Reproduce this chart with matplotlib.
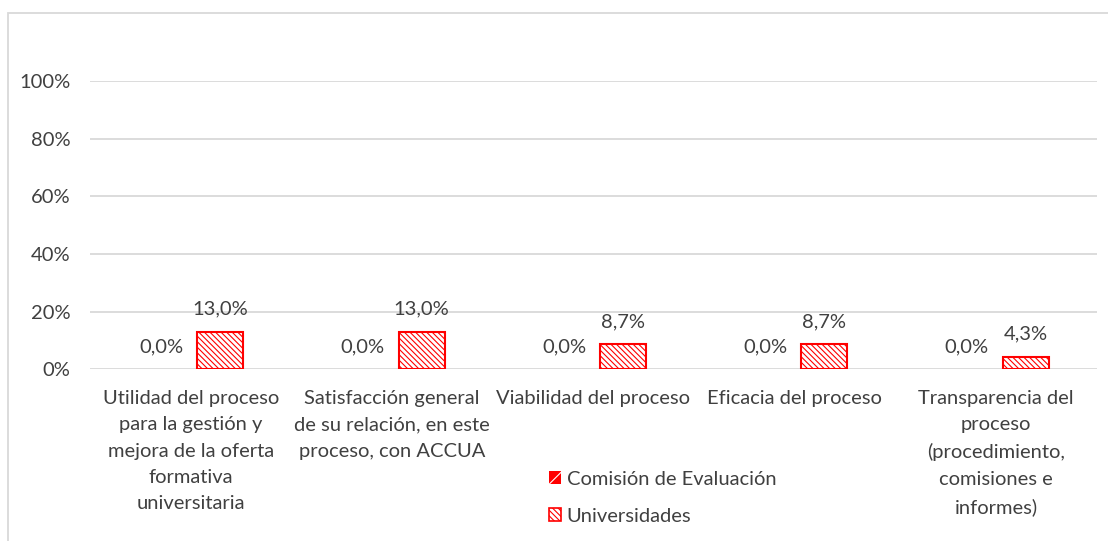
import matplotlib.pyplot as plt
import numpy as np
from matplotlib.patches import Patch, Rectangle
from matplotlib.ticker import FuncFormatter

plt.rcParams['font.family'] = ['Lato', 'DejaVu Sans']
plt.rcParams['hatch.linewidth'] = 0.8

categories = [
    "Utilidad del proceso\npara la gestión y\nmejora de la oferta\nformativa\nuniversitaria",
    "Satisfacción general\nde su relación, en este\nproceso, con ACCUA",
    "Viabilidad del proceso",
    "Eficacia del proceso",
    "Transparencia del\nproceso\n(procedimiento,\ncomisiones e\ninformes)",
]
comision = [0.0, 0.0, 0.0, 0.0, 0.0]
universidades = [13.0, 13.0, 8.7, 8.7, 4.3]

text_color = '#404040'
grid_color = '#d9d9d9'
red = '#ff0000'
fs = 14.5

fig = plt.figure(figsize=(11.08, 5.41), dpi=100)
# outer chart border (runs off the right and bottom edges)
fig.patches.append(Rectangle((8 / 1108, -0.05), 1.1, 1 - 13 / 541 + 0.05,
                             transform=fig.transFigure, fill=False,
                             edgecolor=grid_color, linewidth=1.3))

ax = fig.add_axes([0.0812, 0.3179, 0.9088, 0.5315])
x = np.arange(len(categories))
w = 0.228
off = 0.1465

b1 = ax.bar(x - off, comision, w, color=red, edgecolor=red, linewidth=0)
b2 = ax.bar(x + off, universidades, w, color='white', edgecolor=red,
            hatch='\\\\\\\\\\\\', linewidth=1.5)

for bars, vals in ((b1, comision), (b2, universidades)):
    for rect, v in zip(bars, vals):
        ax.annotate(f"{v:.1f}%".replace('.', ','),
                    (rect.get_x() + rect.get_width() / 2, v),
                    xytext=(0, 10), textcoords='offset points',
                    ha='center', va='bottom', fontsize=fs, color=text_color)

ax.set_xlim(-0.5, len(categories) - 0.5)
ax.set_ylim(0, 100)
ax.set_yticks(np.arange(0, 101, 20))
ax.yaxis.set_major_formatter(FuncFormatter(lambda v, p: f"{v:.0f}%"))
ax.set_xticks(x)
ax.set_xticklabels(categories, linespacing=1.67)
ax.tick_params(axis='both', length=0, labelsize=fs, labelcolor=text_color)
ax.tick_params(axis='y', pad=14)
ax.tick_params(axis='x', pad=15)

ax.grid(axis='y', color=grid_color, linewidth=1.3)
ax.set_axisbelow(True)
for s in ax.spines.values():
    s.set_visible(False)

handles = [
    Patch(facecolor=red, edgecolor='white', hatch='//', linewidth=0),
    Patch(facecolor='white', edgecolor=red, hatch='\\\\\\\\\\\\', linewidth=1.2),
]
fig.legend(handles, ['Comisión de Evaluación', 'Universidades'],
           loc='center', bbox_to_anchor=(0.598, 0.080), frameon=False,
           fontsize=fs, labelcolor=text_color, handlelength=0.6,
           handleheight=0.6, handletextpad=0.3, labelspacing=1.0)

fig.savefig('out.png', dpi=100)
